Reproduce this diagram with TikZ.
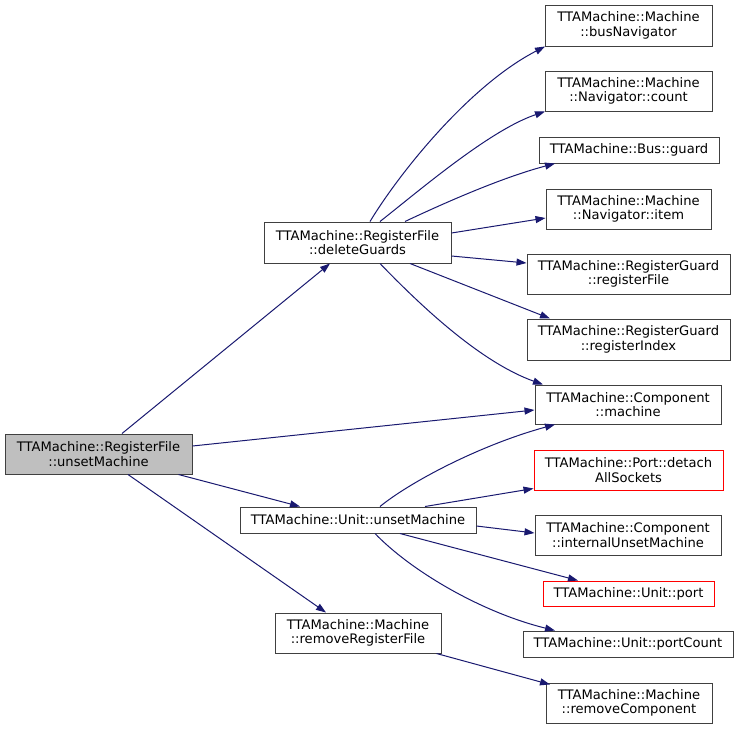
\documentclass[tikz,border=0pt]{standalone}
\usepackage{fontspec}
\setmainfont{DejaVu Sans}
\usetikzlibrary{arrows.meta}
\definecolor{edgeblue}{HTML}{191970}
\definecolor{rootgray}{HTML}{BFBFBF}
\definecolor{bordergray}{HTML}{404040}
\tikzset{
  box/.style={draw=bordergray, fill=white, line width=1pt, inner sep=0pt, align=center,
    font=\fontsize{13.1}{14.3}\selectfont},
  redbox/.style={box, draw=red},
  edge/.style={draw=edgeblue, line width=1pt, -{Triangle[length=10pt,width=7pt]}},
}
\begin{document}
\begin{tikzpicture}[x=1pt,y=-1pt]
\useasboundingbox[fill=white] (0,0) rectangle (739,729);
\node[box, fill=rootgray, minimum width=187pt, minimum height=40pt] (root) at (98.5,454) {TTAMachine::RegisterFile\\::unsetMachine};
\node[box, minimum width=187pt, minimum height=41pt] (dg) at (357.5,242.5) {TTAMachine::RegisterFile\\::deleteGuards};
\node[box, minimum width=167pt, minimum height=41pt] (bus) at (628.5,25.5) {TTAMachine::Machine\\::busNavigator};
\node[box, minimum width=167pt, minimum height=40pt] (count) at (628.5,91) {TTAMachine::Machine\\::Navigator::count};
\node[box, minimum width=180pt, minimum height=26pt] (guard) at (629,150) {TTAMachine::Bus::guard};
\node[box, minimum width=165pt, minimum height=40pt] (item) at (628.5,209) {TTAMachine::Machine\\::Navigator::item};
\node[box, minimum width=203pt, minimum height=40pt] (rgf) at (628.5,274) {TTAMachine::RegisterGuard\\::registerFile};
\node[box, minimum width=203pt, minimum height=41pt] (rgi) at (628.5,339.5) {TTAMachine::RegisterGuard\\::registerIndex};
\node[box, minimum width=186pt, minimum height=39pt] (mach) at (628,404.5) {TTAMachine::Component\\::machine};
\node[redbox, minimum width=189pt, minimum height=40pt] (detach) at (628.5,470) {TTAMachine::Port::detach\\AllSockets};
\node[box, minimum width=186pt, minimum height=40pt] (internal) at (628,535) {TTAMachine::Component\\::internalUnsetMachine};
\node[box, minimum width=236pt, minimum height=26pt] (unit) at (358,520) {TTAMachine::Unit::unsetMachine};
\node[redbox, minimum width=171pt, minimum height=25pt] (port) at (628.5,593.5) {TTAMachine::Unit::port};
\node[box, minimum width=210pt, minimum height=26pt] (pcount) at (628,644) {TTAMachine::Unit::portCount};
\node[box, minimum width=166pt, minimum height=40pt] (rcomp) at (629,703) {TTAMachine::Machine\\::removeComponent};
\node[box, minimum width=166pt, minimum height=40pt] (rrf) at (358,633) {TTAMachine::Machine\\::removeRegisterFile};

% root edges
\draw[edge] ([xshift=23.5pt]root.north) -- ([xshift=-27.5pt]dg.south);
\draw[edge] ([yshift=8pt]root.east) -- ([yshift=-5.5pt]mach.west);
\draw[edge] ([xshift=-14pt]root.south east) -- ([xshift=-58pt]unit.north);
\draw[edge] ([xshift=29.5pt]root.south) -- ([xshift=-32pt]rrf.north);
% deleteGuards edges
\draw[edge] ([xshift=12.5pt]dg.north) .. controls (400,172) and (470,85) .. ([xshift=-83.5pt]bus.south);
\draw[edge] ([xshift=22.5pt]dg.north) .. controls (420,190) and (490,130) .. ([xshift=-83.5pt]count.south);
\draw[edge] ([xshift=47.5pt]dg.north) .. controls (440,205) and (500,178) .. ([xshift=-74pt]guard.south);
\draw[edge] ([yshift=9.5pt]dg.east) -- ([yshift=-9pt]item.west);
\draw[edge] ([yshift=-13.5pt]dg.east) -- ([yshift=11pt]rgf.west);
\draw[edge] ([xshift=52.5pt]dg.south) -- ([xshift=-78.5pt]rgi.north);
\draw[edge] ([xshift=22.5pt]dg.south) .. controls (420,305) and (480,362) .. ([xshift=-85pt]mach.north);
% unit edges
\draw[edge] ([xshift=22pt]unit.north) .. controls (410,482) and (480,445) .. ([xshift=-73pt]mach.south);
\draw[edge] ([xshift=67pt]unit.north) -- ([yshift=2pt]detach.south west);
\draw[edge] ([yshift=-6pt]unit.east) -- ([yshift=2pt]internal.west);
\draw[edge] ([xshift=42pt]unit.south) -- ([xshift=-50.5pt]port.north);
\draw[edge] ([xshift=17pt]unit.south) .. controls (410,570) and (480,612) .. ([xshift=-73pt]pcount.north);
% removeRegisterFile edge
\draw[edge] ([xshift=-5pt]rrf.south east) -- ([xshift=-79pt,yshift=-2pt]rcomp.north);
\end{tikzpicture}
\end{document}
